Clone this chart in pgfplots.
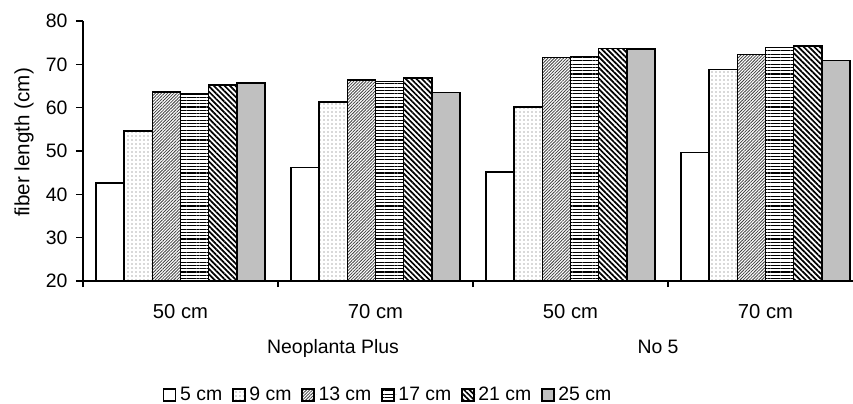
\documentclass[border=0pt]{standalone}
\usepackage{fontspec}
\setmainfont{Liberation Sans}
\usepackage{pgfplots}
\pgfplotsset{compat=1.18}
\usetikzlibrary{patterns.meta}
\definecolor{silverbar}{RGB}{192,192,192}
\begin{document}
\begin{tikzpicture}[font=\fontsize{19.5}{23}\selectfont]
\useasboundingbox (0,0) rectangle (853bp,404bp);
\begin{axis}[
  at={(83bp,123bp)}, anchor=south west,
  scale only axis, width=770bp, height=260bp,
  xmin=-0.5, xmax=3.449, ymin=20, ymax=80,
  axis x line=bottom, axis y line=left,
  axis line style={-, line width=1.5bp, black},
  clip=false,
  /pgf/number format/assume math mode=true,
  ytick={20,30,...,80},
  xtick={0,1,2,3},
  xticklabels={50 cm,70 cm,50 cm,70 cm},
  minor xtick={-0.5,0.5,1.5,2.5},
  tick align=outside,
  major tick length=7bp, minor tick length=6bp,
  tick style={black, line width=1.5bp},
  every major x tick/.append style={draw=none},
  xticklabel style={anchor=base, yshift=-30bp, font=\fontsize{20.3}{24}\selectfont},
  yticklabel style={anchor=east, xshift=-5bp},
  ylabel={fiber length (cm)},
  ylabel style={at={(axis description cs:-0.0766,0.533)}, anchor=center, font=\fontsize{20.7}{24}\selectfont},
  ybar=0pt, bar width=0.1444,
  legend columns=6,
  legend style={draw=none, fill=none, at={(axis description cs:0.396,-0.438)}, anchor=center,
    nodes={inner sep=1.5bp},
    /tikz/every even column/.append style={column sep=8.4bp}},
  legend image code/.code={\path[draw=none] (0bp,0bp) -- (15bp,0bp); \draw[#1, line width=1.3bp] (0bp,-6bp) rectangle (12bp,6bp);},
]
\addplot[draw=black, line width=1.5bp, fill=white] coordinates {(0,42.6) (1,46.2) (2,45.2) (3,49.7)};
\addplot[draw=black, line width=1.5bp, pattern={Dots[distance=4bp, radius=0.55bp]}, pattern color=black!65] coordinates {(0,54.6) (1,61.3) (2,60.2) (3,68.8)};
\addplot[draw=black, line width=1.5bp, pattern={Lines[angle=45, distance=2.2bp, line width=0.8bp]}, pattern color=black!75] coordinates {(0,63.6) (1,66.4) (2,71.6) (3,72.3)};
\addplot[draw=black, line width=1.5bp, pattern={Lines[angle=0, distance=3.3bp, line width=1.1bp]}, pattern color=black] coordinates {(0,63.1) (1,66.0) (2,71.8) (3,73.9)};
\addplot[draw=black, line width=1.5bp, pattern={Lines[angle=-45, distance=3.8bp, line width=1.7bp]}, pattern color=black] coordinates {(0,65.2) (1,66.8) (2,73.7) (3,74.2)};
\addplot[draw=black, line width=1.5bp, fill=silverbar] coordinates {(0,65.7) (1,63.5) (2,73.5) (3,70.9)};
\legend{5 cm,9 cm,13 cm,17 cm,21 cm,25 cm}
\node[anchor=base] at (axis description cs:0.3247,-0.277) {Neoplanta Plus};
\node[anchor=base] at (axis description cs:0.7468,-0.277) {No 5};
\end{axis}
\end{tikzpicture}
\end{document}
